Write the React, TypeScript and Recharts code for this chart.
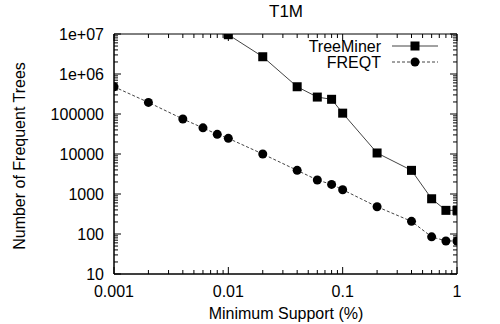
import { LineChart, Line, XAxis, YAxis } from 'recharts'

// minimum support (%) for each run
const supportTreeMiner = [0.01, 0.02, 0.04, 0.06, 0.08, 0.1, 0.2, 0.4, 0.6, 0.8, 1]
const supportFreqt = [0.001, 0.002, 0.004, 0.006, 0.008, 0.01, 0.02, 0.04, 0.06, 0.08, 0.1, 0.2, 0.4, 0.6, 0.8, 1]

// number of frequent trees
const treeMinerCounts = [9600000, 2700000, 480000, 265000, 233000, 105000, 10600, 3900, 760, 390, 390]
const freqtCounts = [480000, 195000, 75000, 45000, 31000, 24600, 10000, 3900, 2240, 1740, 1280, 480, 207, 85, 67, 67]

const seriesNames = ['TreeMiner', 'FREQT']

const xMajor = [0.001, 0.01, 0.1, 1]
const xLabels = ['0.001', '0.01', '0.1', '1']
const yMajor = [10, 100, 1000, 10000, 100000, 1000000, 10000000]
const yLabels = ['10', '100', '1000', '10000', '100000', '1e+06', '1e+07']
const minorSteps = [2, 3, 4, 5, 6, 7, 8, 9]

const xMinor = xMajor.slice(0, -1).flatMap((d) => minorSteps.map((m) => d * m))
const yMinor = yMajor.slice(0, -1).flatMap((d) => minorSteps.map((m) => d * m))

const treeMinerData = supportTreeMiner.map((x, i) => ({ x, y: treeMinerCounts[i] }))
const freqtData = supportFreqt.map((x, i) => ({ x, y: freqtCounts[i] }))

const FONT = '"Liberation Sans", Arial, sans-serif'
const MAJOR = 7
const MINOR = 4

// chart layout
const W = 500
const H = 324
const MARGIN = { top: 34, right: 43, bottom: 0, left: 0 }
const X_AXIS_H = 50
const Y_AXIS_W = 114
const LEFT = MARGIN.left + Y_AXIS_W
const TOP = MARGIN.top
const PLOT_W = W - MARGIN.right - LEFT
const PLOT_H = H - MARGIN.bottom - X_AXIS_H - TOP
const X_DOMAIN = [0.001, 1]
const Y_DOMAIN = [10, 10000000]

const px = (v: number) =>
  LEFT + (PLOT_W * Math.log10(v / X_DOMAIN[0])) / Math.log10(X_DOMAIN[1] / X_DOMAIN[0])
const py = (v: number) =>
  TOP + PLOT_H - (PLOT_H * Math.log10(v / Y_DOMAIN[0])) / Math.log10(Y_DOMAIN[1] / Y_DOMAIN[0])

function BottomLabel({ x, y, payload }: any) {
  const i = xMajor.indexOf(payload.value)
  return (
    <text x={x} y={y + 17} textAnchor="middle" dominantBaseline="central" fontSize={16} fontFamily={FONT} fill="#000">
      {xLabels[i]}
    </text>
  )
}

function LeftLabel({ x, y, payload }: any) {
  const i = yMajor.indexOf(payload.value)
  return (
    <text x={x - 10} y={y} textAnchor="end" dominantBaseline="central" fontSize={16} fontFamily={FONT} fill="#000">
      {yLabels[i]}
    </text>
  )
}

const Square = (p: any) => <rect key={p.index} x={p.cx - 4.5} y={p.cy - 4.5} width={9} height={9} fill="#000" />
const Circle = (p: any) => <circle key={p.index} cx={p.cx} cy={p.cy} r={4.5} fill="#000" />

// frame with inward ticks on all four sides, titles and key, in its own svg on top
function Overlay() {
  const right = LEFT + PLOT_W
  const bottom = TOP + PLOT_H
  const xt = [...xMajor.map((v) => [v, MAJOR]), ...xMinor.map((v) => [v, MINOR])]
  const yt = [...yMajor.map((v) => [v, MAJOR]), ...yMinor.map((v) => [v, MINOR])]
  const lines: any[] = [
    [LEFT, TOP, right, TOP],
    [right, TOP, right, bottom],
    [LEFT, bottom, right, bottom],
    [LEFT, TOP, LEFT, bottom],
  ]
  xt.forEach(([v, len]) => {
    lines.push([px(v), bottom, px(v), bottom - len])
    lines.push([px(v), TOP, px(v), TOP + len])
  })
  yt.forEach(([v, len]) => {
    lines.push([LEFT, py(v), LEFT + len, py(v)])
    lines.push([right, py(v), right - len, py(v)])
  })
  return (
    <svg
      width={W}
      height={H}
      style={{ position: 'absolute', left: 0, top: 0, pointerEvents: 'none' }}
      fontFamily={FONT}
    >
      {lines.map((l, i) => (
        <line key={i} x1={l[0]} y1={l[1]} x2={l[2]} y2={l[3]} stroke="#000" strokeWidth={1} />
      ))}
      <text x={286} y={11} textAnchor="middle" dominantBaseline="central" fontSize={17} fill="#000">T1M</text>
      <text x={286} y={313} textAnchor="middle" dominantBaseline="central" fontSize={16} fill="#000">Minimum Support (%)</text>
      <text x={19} y={156} textAnchor="middle" dominantBaseline="central" fontSize={16} fill="#000" transform="rotate(-90 19 156)">
        Number of Frequent Trees
      </text>
      <text x={381} y={46} textAnchor="end" dominantBaseline="central" fontSize={16} fill="#000">{seriesNames[0]}</text>
      <line x1={392} x2={438} y1={46} y2={46} stroke="#444" />
      <rect x={410.5} y={41.5} width={9} height={9} fill="#000" />
      <text x={381} y={62} textAnchor="end" dominantBaseline="central" fontSize={16} fill="#000">{seriesNames[1]}</text>
      <line x1={392} x2={438} y1={62} y2={62} stroke="#444" strokeDasharray="3 2" />
      <circle cx={415} cy={62} r={4.5} fill="#000" />
    </svg>
  )
}

export default function App() {
  return (
    <div style={{ position: 'absolute', left: 0, top: 0, width: W, height: H, background: '#fff' }}>
      <LineChart width={W} height={H} margin={MARGIN}>
        <XAxis
          dataKey="x"
          type="number"
          scale="log"
          domain={X_DOMAIN}
          ticks={xMajor}
          interval={0}
          height={X_AXIS_H}
          tickSize={0}
          tickMargin={0}
          tickLine={false}
          axisLine={{ stroke: '#000' }}
          tick={<BottomLabel />}
          allowDataOverflow
        />
        <YAxis
          type="number"
          scale="log"
          domain={Y_DOMAIN}
          ticks={yMajor}
          interval={0}
          width={Y_AXIS_W}
          tickSize={0}
          tickMargin={0}
          tickLine={false}
          axisLine={{ stroke: '#000' }}
          tick={<LeftLabel />}
          allowDataOverflow
        />
        <Line
          data={treeMinerData}
          dataKey="y"
          name={seriesNames[0]}
          stroke="#444"
          strokeWidth={1}
          dot={Square}
          activeDot={false}
          isAnimationActive={false}
        />
        <Line
          data={freqtData}
          dataKey="y"
          name={seriesNames[1]}
          stroke="#444"
          strokeWidth={1}
          strokeDasharray="3 2"
          dot={Circle}
          activeDot={false}
          isAnimationActive={false}
        />
      </LineChart>
      <Overlay />
    </div>
  )
}
